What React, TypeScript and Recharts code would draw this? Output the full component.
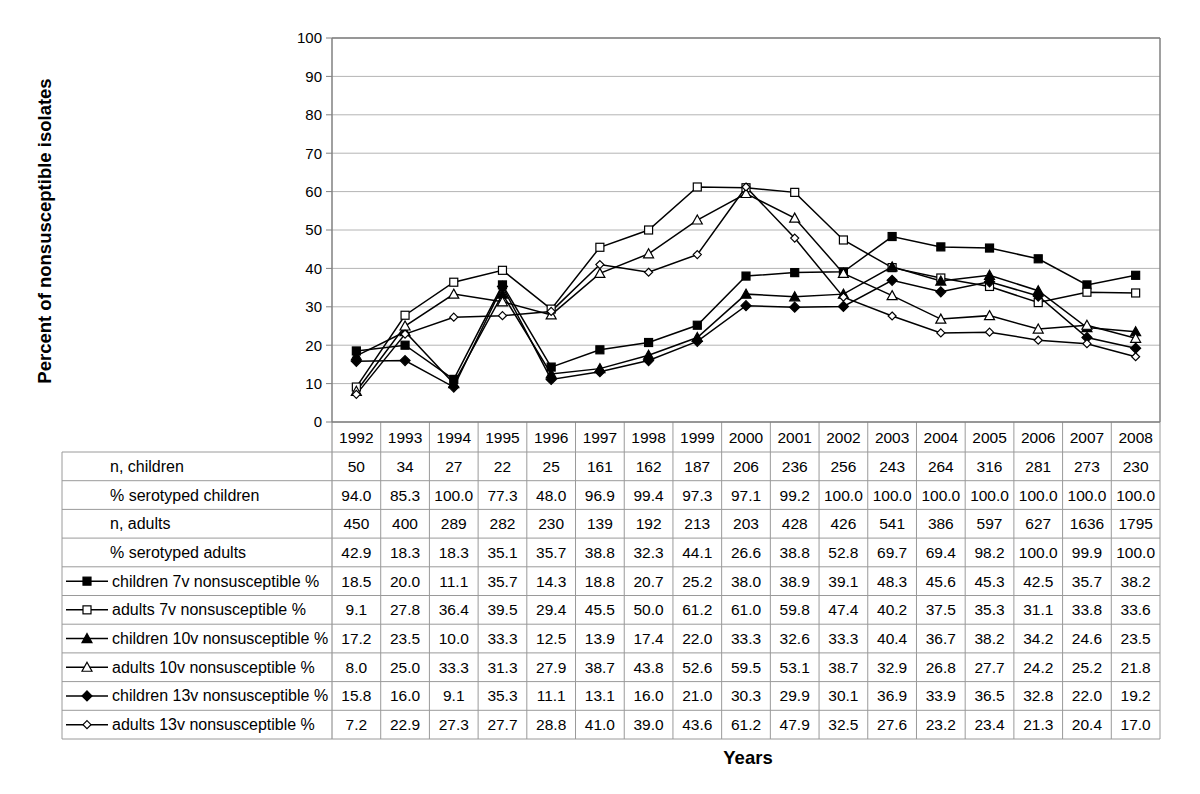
import { LineChart, Line, XAxis, YAxis, CartesianGrid, ReferenceLine } from 'recharts'

const years = [1992, 1993, 1994, 1995, 1996, 1997, 1998, 1999, 2000, 2001, 2002, 2003, 2004, 2005, 2006, 2007, 2008]
const nChildren = [50, 34, 27, 22, 25, 161, 162, 187, 206, 236, 256, 243, 264, 316, 281, 273, 230]
const serotypedChildren = [94.0, 85.3, 100.0, 77.3, 48.0, 96.9, 99.4, 97.3, 97.1, 99.2, 100.0, 100.0, 100.0, 100.0, 100.0, 100.0, 100.0]
const nAdults = [450, 400, 289, 282, 230, 139, 192, 213, 203, 428, 426, 541, 386, 597, 627, 1636, 1795]
const serotypedAdults = [42.9, 18.3, 18.3, 35.1, 35.7, 38.8, 32.3, 44.1, 26.6, 38.8, 52.8, 69.7, 69.4, 98.2, 100.0, 99.9, 100.0]
const children7v = [18.5, 20.0, 11.1, 35.7, 14.3, 18.8, 20.7, 25.2, 38.0, 38.9, 39.1, 48.3, 45.6, 45.3, 42.5, 35.7, 38.2]
const adults7v = [9.1, 27.8, 36.4, 39.5, 29.4, 45.5, 50.0, 61.2, 61.0, 59.8, 47.4, 40.2, 37.5, 35.3, 31.1, 33.8, 33.6]
const children10v = [17.2, 23.5, 10.0, 33.3, 12.5, 13.9, 17.4, 22.0, 33.3, 32.6, 33.3, 40.4, 36.7, 38.2, 34.2, 24.6, 23.5]
const adults10v = [8.0, 25.0, 33.3, 31.3, 27.9, 38.7, 43.8, 52.6, 59.5, 53.1, 38.7, 32.9, 26.8, 27.7, 24.2, 25.2, 21.8]
const children13v = [15.8, 16.0, 9.1, 35.3, 11.1, 13.1, 16.0, 21.0, 30.3, 29.9, 30.1, 36.9, 33.9, 36.5, 32.8, 22.0, 19.2]
const adults13v = [7.2, 22.9, 27.3, 27.7, 28.8, 41.0, 39.0, 43.6, 61.2, 47.9, 32.5, 27.6, 23.2, 23.4, 21.3, 20.4, 17.0]
const yTicks = [0, 10, 20, 30, 40, 50, 60, 70, 80, 90, 100]

type Shape = 'square' | 'triangle' | 'diamond'

const series: { key: string; label: string; values: number[]; shape: Shape; filled: boolean }[] = [
  { key: 'c7', label: 'children 7v nonsusceptible %', values: children7v, shape: 'square', filled: true },
  { key: 'a7', label: 'adults 7v nonsusceptible %', values: adults7v, shape: 'square', filled: false },
  { key: 'c10', label: 'children 10v nonsusceptible %', values: children10v, shape: 'triangle', filled: true },
  { key: 'a10', label: 'adults 10v nonsusceptible %', values: adults10v, shape: 'triangle', filled: false },
  { key: 'c13', label: 'children 13v nonsusceptible %', values: children13v, shape: 'diamond', filled: true },
  { key: 'a13', label: 'adults 13v nonsusceptible %', values: adults13v, shape: 'diamond', filled: false },
]

const textRows: { label: string; values: string[] }[] = [
  { label: 'n, children', values: nChildren.map(String) },
  { label: '% serotyped children', values: serotypedChildren.map((v) => v.toFixed(1)) },
  { label: 'n, adults', values: nAdults.map(String) },
  { label: '% serotyped adults', values: serotypedAdults.map((v) => v.toFixed(1)) },
]

const data = years.map((year, i) => {
  const row: Record<string, number> = { year }
  series.forEach((s) => (row[s.key] = s.values[i]))
  return row
})

const FONT = '"Liberation Sans", Arial, sans-serif'
const PLOT_LEFT = 332
const PLOT_RIGHT = 1160
const PLOT_TOP = 38
const PLOT_BOTTOM = 422
const TABLE_LEFT = 62
const TABLE_TOP = 452
const ROW_H = 28.7
const COL_W = (PLOT_RIGHT - PLOT_LEFT) / years.length
const BORDER = '#808080'
const TABLE_LINE = '#9a9a9a'
const CELL_FONT = 15.5
const LABEL_FONT = 16

function Marker({ cx, cy, shape, filled }: { cx: number; cy: number; shape: Shape; filled: boolean }) {
  const fill = filled ? '#000' : '#fff'
  if (shape === 'square') {
    return <rect x={cx - 4} y={cy - 4} width={8} height={8} fill={fill} stroke="#000" strokeWidth={1.2} />
  }
  if (shape === 'triangle') {
    return (
      <polygon
        points={`${cx},${cy - 5} ${cx + 5},${cy + 4} ${cx - 5},${cy + 4}`}
        fill={fill}
        stroke="#000"
        strokeWidth={1.2}
      />
    )
  }
  const r = filled ? 5 : 4
  return (
    <polygon
      points={`${cx},${cy - r} ${cx + r},${cy} ${cx},${cy + r} ${cx - r},${cy}`}
      fill={fill}
      stroke="#000"
      strokeWidth={1.2}
    />
  )
}

function Table() {
  const rows = textRows.length + series.length
  const bottom = TABLE_TOP + rows * ROW_H
  const cellText = (x: number, y: number, t: string, key: string) => (
    <text key={key} x={x} y={y} textAnchor="middle" dominantBaseline="central" fontSize={CELL_FONT} fill="#000">
      {t}
    </text>
  )
  return (
    <svg width={1200} height={794} style={{ position: 'absolute', left: 0, top: 0, pointerEvents: 'none' }} fontFamily={FONT}>
      {/* table grid */}
      {years.map((_, i) => (
        <line key={'v' + i} x1={PLOT_LEFT + i * COL_W} x2={PLOT_LEFT + i * COL_W} y1={PLOT_BOTTOM} y2={bottom} stroke={i === 0 ? BORDER : TABLE_LINE} />
      ))}
      <line x1={PLOT_RIGHT} x2={PLOT_RIGHT} y1={PLOT_BOTTOM} y2={bottom} stroke={TABLE_LINE} />
      <line x1={TABLE_LEFT} x2={TABLE_LEFT} y1={TABLE_TOP} y2={bottom} stroke={TABLE_LINE} />
      {Array.from({ length: rows + 1 }, (_, r) => (
        <line key={'h' + r} x1={TABLE_LEFT} x2={PLOT_RIGHT} y1={TABLE_TOP + r * ROW_H} y2={TABLE_TOP + r * ROW_H} stroke={TABLE_LINE} />
      ))}
      <line x1={PLOT_LEFT} x2={PLOT_RIGHT} y1={PLOT_BOTTOM} y2={PLOT_BOTTOM} stroke={BORDER} strokeWidth={1.5} />

      {years.map((y, i) => cellText(PLOT_LEFT + (i + 0.5) * COL_W, (PLOT_BOTTOM + TABLE_TOP) / 2, String(y), 'y' + i))}

      {textRows.map((row, r) => {
        const cy = TABLE_TOP + (r + 0.5) * ROW_H
        return (
          <g key={'t' + r}>
            <text x={110} y={cy} dominantBaseline="central" fontSize={LABEL_FONT} fill="#000">
              {row.label}
            </text>
            {row.values.map((v, i) => cellText(PLOT_LEFT + (i + 0.5) * COL_W, cy, v, 't' + r + '-' + i))}
          </g>
        )
      })}

      {series.map((s, k) => {
        const cy = TABLE_TOP + (textRows.length + k + 0.5) * ROW_H
        return (
          <g key={'s' + k}>
            <line x1={66} x2={108} y1={cy} y2={cy} stroke="#000" strokeWidth={1.5} />
            <Marker cx={87} cy={cy} shape={s.shape} filled={s.filled} />
            <text x={112} y={cy} dominantBaseline="central" fontSize={LABEL_FONT} fill="#000">
              {s.label}
            </text>
            {s.values.map((v, i) => cellText(PLOT_LEFT + (i + 0.5) * COL_W, cy, v.toFixed(1), 's' + k + '-' + i))}
          </g>
        )
      })}

      <text
        x={0}
        y={0}
        transform="translate(51,231) rotate(-90)"
        textAnchor="middle"
        fontSize={18.5}
        fontWeight="bold"
        fill="#000"
      >
        Percent of nonsusceptible isolates
      </text>
      <text x={748} y={757} textAnchor="middle" dominantBaseline="central" fontSize={18.5} fontWeight="bold" fill="#000">
        Years
      </text>
    </svg>
  )
}

export default function App() {
  return (
    <div style={{ position: 'absolute', left: 0, top: 0, width: 1200, height: 794, background: '#fff', fontFamily: FONT }}>
      <LineChart
        width={1200}
        height={794}
        data={data}
        margin={{ top: PLOT_TOP, right: 1200 - PLOT_RIGHT, bottom: 794 - PLOT_BOTTOM, left: PLOT_LEFT - 50 }}
      >
        <CartesianGrid vertical={false} stroke="#b4b4b4" />
        <XAxis dataKey="year" type="number" domain={[1991.5, 2008.5]} hide />
        <YAxis
          width={50}
          domain={[0, 100]}
          ticks={yTicks}
          interval={0}
          tickSize={6}
          tickMargin={4}
          axisLine={{ stroke: BORDER, strokeWidth: 1.5 }}
          tickLine={{ stroke: BORDER }}
          tick={{ fontSize: 15, fill: '#000', fontFamily: FONT }}
        />
        <ReferenceLine y={100} stroke={BORDER} strokeWidth={1.5} />
        <ReferenceLine x={2008.5} stroke={BORDER} strokeWidth={1.5} />
        {series.map((s) => (
          <Line
            key={s.key}
            dataKey={s.key}
            stroke="#000"
            strokeWidth={1.5}
            isAnimationActive={false}
            dot={(p: any) => <Marker key={s.key + p.index} cx={p.cx} cy={p.cy} shape={s.shape} filled={s.filled} />}
            activeDot={false}
          />
        ))}
      </LineChart>
      <Table />
    </div>
  )
}
